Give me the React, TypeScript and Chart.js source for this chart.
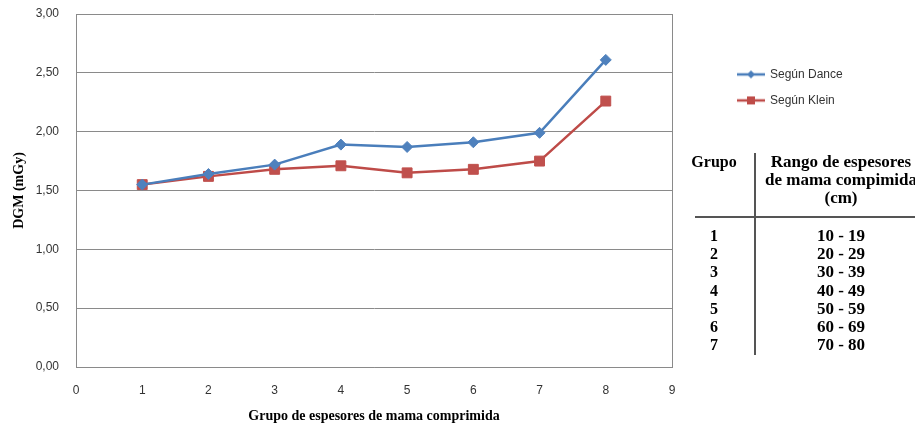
import React, { useEffect, useRef } from 'react';
import { Chart, registerables } from 'chart.js';

Chart.register(...registerables);

// ---- data ----
const groupPositions = [1, 2, 3, 4, 5, 6, 7, 8];
const segunDance = [1.55, 1.64, 1.72, 1.89, 1.87, 1.91, 1.99, 2.61];
const segunKlein = [1.55, 1.62, 1.68, 1.71, 1.65, 1.68, 1.75, 2.26];
const seriesNames = ['Según Dance', 'Según Klein'];
const xAxisTitle = 'Grupo de espesores de mama comprimida';
const yAxisTitle = 'DGM (mGy)';
const xMin = 0;
const xMax = 9;
const yMin = 0;
const yMax = 3;
const yStep = 0.5;

const tableHeaderGroup = 'Grupo';
const tableHeaderRange = ['Rango de espesores', 'de mama compimida', '(cm)'];
const tableGroups = ['1', '2', '3', '4', '5', '6', '7'];
const tableRanges = ['10 - 19', '20 - 29', '30 - 39', '40 - 49', '50 - 59', '60 - 69', '70 - 80'];

// ---- styles ----
const BLUE_LINE = '#4A7EBB';
const BLUE_PT = '#4F81BD';
const RED_LINE = '#BE4B48';
const RED_PT = '#C0504D';
const GRID = '#8a8a8a';
const TICK_COLOR = '#333333';
const SANS = "'Liberation Sans', Arial, sans-serif";
const SERIF = "'Liberation Serif', 'Times New Roman', serif";

function makeSwatch(color: string, shape: 'diamond' | 'square') {
  const c = document.createElement('canvas');
  c.width = 28;
  c.height = 12;
  const g = c.getContext('2d')!;
  g.strokeStyle = color;
  g.lineWidth = 2.5;
  g.beginPath();
  g.moveTo(0, 6);
  g.lineTo(28, 6);
  g.stroke();
  g.fillStyle = color;
  if (shape === 'diamond') {
    g.beginPath();
    g.moveTo(14, 2);
    g.lineTo(18, 6);
    g.lineTo(14, 10);
    g.lineTo(10, 6);
    g.closePath();
    g.fill();
  } else {
    g.fillRect(10, 2, 8, 8);
  }
  return c;
}

function ChartPanel() {
  const ref = useRef<HTMLCanvasElement | null>(null);

  useEffect(() => {
    if (!ref.current) return;
    const swatches = [makeSwatch(BLUE_LINE, 'diamond'), makeSwatch(RED_LINE, 'square')];

    const chart = new Chart(ref.current, {
      type: 'line',
      data: {
        datasets: [
          {
            label: seriesNames[0],
            data: groupPositions.map((x, i) => ({ x, y: segunDance[i] })),
            borderColor: BLUE_LINE,
            backgroundColor: BLUE_PT,
            borderWidth: 2.5,
            pointStyle: 'rectRot',
            pointRadius: 5.5,
            pointBackgroundColor: BLUE_PT,
            pointBorderColor: BLUE_PT,
            pointBorderWidth: 1,
            tension: 0,
          },
          {
            label: seriesNames[1],
            data: groupPositions.map((x, i) => ({ x, y: segunKlein[i] })),
            borderColor: RED_LINE,
            backgroundColor: RED_PT,
            borderWidth: 2.5,
            pointStyle: 'rect',
            pointRadius: 7,
            pointBackgroundColor: RED_PT,
            pointBorderColor: RED_PT,
            pointBorderWidth: 1,
            tension: 0,
          },
        ],
      },
      options: {
        animation: false,
        responsive: true,
        maintainAspectRatio: false,
        layout: { padding: { top: 14, right: 66, bottom: 0, left: 0 } },
        plugins: {
          tooltip: { enabled: false },
          legend: {
            position: 'right',
            align: 'start',
            maxWidth: 125,
            title: { display: true, text: '', padding: { top: 26, bottom: 0 }, font: { size: 12 } },
            labels: {
              usePointStyle: true,
              pointStyleWidth: 26,
              padding: 14,
              color: TICK_COLOR,
              font: { family: SANS, size: 12 },
              generateLabels: (ch: any) => {
                const items = (Chart.defaults.plugins.legend.labels as any).generateLabels(ch);
                items.forEach((it: any, i: number) => {
                  it.pointStyle = swatches[i];
                });
                return items;
              },
            },
          },
        },
        scales: {
          x: {
            type: 'linear',
            min: xMin,
            max: xMax,
            ticks: {
              stepSize: 1,
              padding: 16,
              color: TICK_COLOR,
              font: { family: SANS, size: 12 },
            },
            grid: {
              drawTicks: false,
              color: (ctx: any) => (ctx.tick && ctx.tick.value === xMax ? GRID : 'rgba(0,0,0,0)'),
            },
            border: { color: GRID },
            title: {
              display: true,
              text: xAxisTitle,
              color: '#000',
              font: { family: SERIF, size: 14, weight: 'bold' },
              padding: { top: 0, bottom: 0 },
            },
            afterFit: (s: any) => {
              s.height = 58;
            },
          },
          y: {
            type: 'linear',
            min: yMin,
            max: yMax,
            ticks: {
              stepSize: yStep,
              padding: 17,
              color: TICK_COLOR,
              font: { family: SANS, size: 12 },
              callback: (v: any) => Number(v).toFixed(2).replace('.', ','),
            },
            grid: { drawTicks: false, color: GRID },
            border: { color: GRID },
            title: {
              display: true,
              text: yAxisTitle,
              color: '#000',
              font: { family: SERIF, size: 14, weight: 'bold' },
              padding: { top: 11, bottom: 0 },
            },
            afterFit: (s: any) => {
              s.width = 76;
              s.paddingTop = 8;
              s.paddingBottom = 8;
            },
          },
          yR: {
            type: 'linear',
            position: 'right',
            display: true,
            ticks: { display: false },
            grid: { display: false },
            border: { display: false },
            afterFit: (s: any) => {
              s.width = 52;
            },
          },
        },
      } as any,
    });
    return () => chart.destroy();
  }, []);

  return (
    <div style={{ position: 'absolute', left: 0, top: 0, width: 915, height: 425 }}>
      <canvas ref={ref} />
    </div>
  );
}

function RangeTable() {
  const font: React.CSSProperties = {
    fontFamily: SERIF,
    fontWeight: 'bold',
    fontSize: 16,
    color: '#000',
    whiteSpace: 'nowrap',
    position: 'absolute',
    textAlign: 'center',
  };
  const wide: React.CSSProperties = { ...font, fontSize: 17 };
  const rowH = 18.17;
  return (
    <div style={{ position: 'absolute', left: 0, top: 0, width: 915, height: 425, pointerEvents: 'none' }}>
      <div style={{ ...font, left: 684, width: 60, top: 153, lineHeight: '18px' }}>{tableHeaderGroup}</div>
      <div style={{ ...wide, left: 756, width: 170, top: 153, lineHeight: '18px' }}>
        {tableHeaderRange.map((t, i) => (
          <div key={i}>{t}</div>
        ))}
      </div>
      <div style={{ position: 'absolute', left: 754, top: 153, width: 1.5, height: 202, background: '#555' }} />
      <div style={{ position: 'absolute', left: 695, top: 216, width: 220, height: 1.5, background: '#555' }} />
      <div style={{ ...font, left: 684, width: 60, top: 227, lineHeight: rowH + 'px' }}>
        {tableGroups.map((g) => (
          <div key={g}>{g}</div>
        ))}
      </div>
      <div style={{ ...wide, left: 756, width: 170, top: 227, lineHeight: rowH + 'px' }}>
        {tableRanges.map((r) => (
          <div key={r}>{r}</div>
        ))}
      </div>
    </div>
  );
}

export default function App() {
  return (
    <div
      style={{
        position: 'fixed',
        left: 0,
        top: 0,
        width: 915,
        height: 425,
        overflow: 'hidden',
        background: '#fff',
      }}
    >
      <ChartPanel />
      <RangeTable />
    </div>
  );
}
